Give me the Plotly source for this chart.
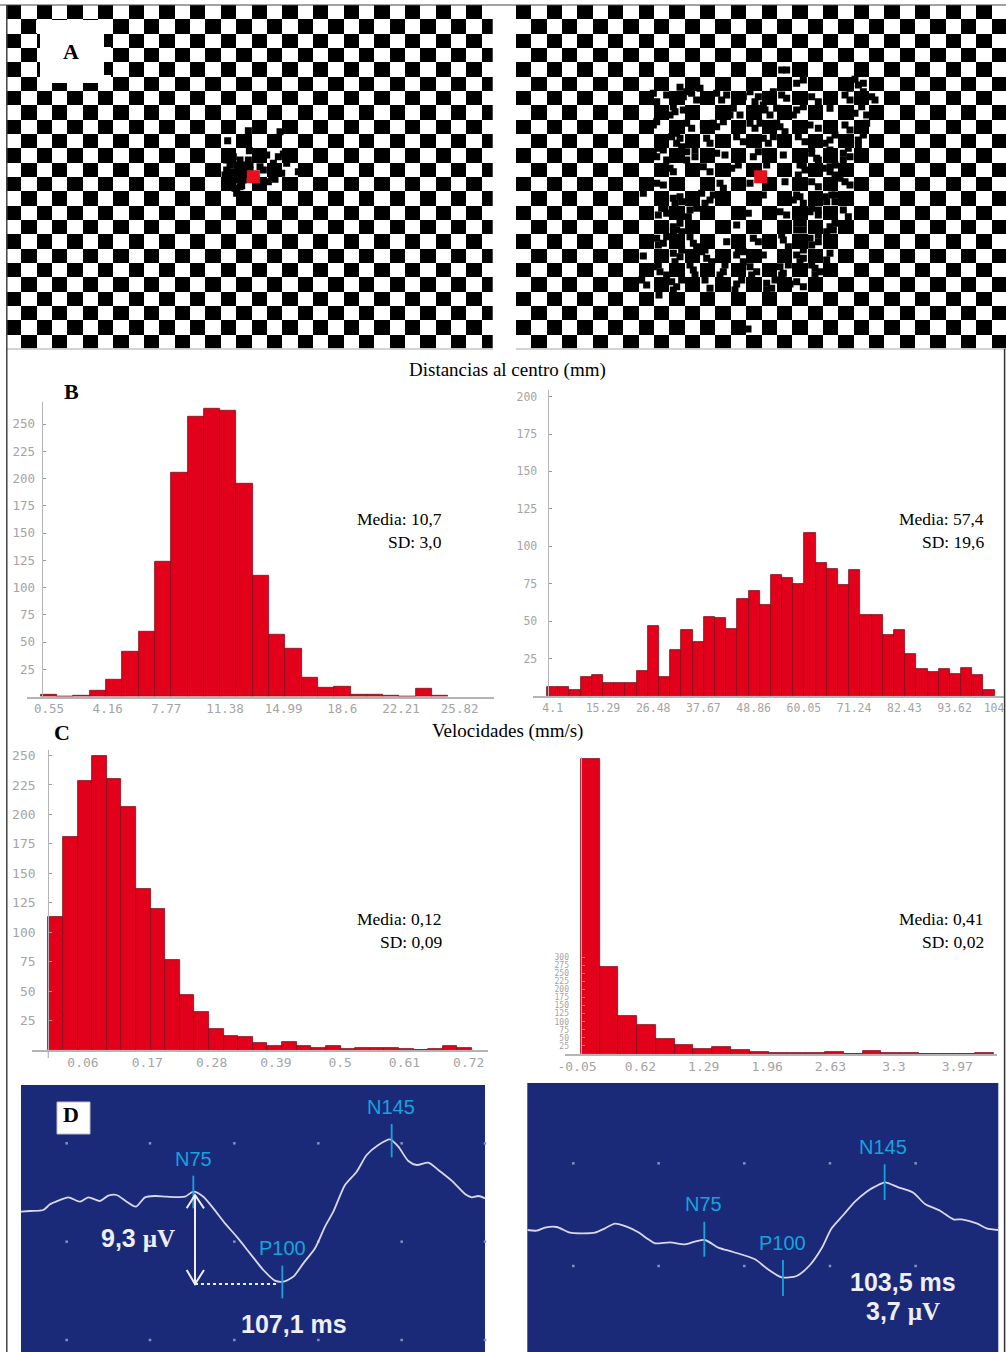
import plotly.graph_objects as go

W, H = 1006, 1352

# ---------- data ----------
dist_left = [2, 0, 1, 5, 15, 41, 59, 124, 205, 257, 264, 262, 195, 111, 57, 44, 17, 8, 9, 2, 2, 1, 0, 7, 1]
dist_right = [6, 6, 4, 13, 14, 9, 9, 9, 17, 47, 13, 31, 44, 36, 53, 52, 45, 65, 70, 61, 81, 79, 75, 109,
              89, 85, 74, 84, 54, 54, 41, 44, 28, 18, 16, 18, 15, 19, 14, 4]
vel_left = [113, 181, 228, 250, 230, 206, 137, 120, 76, 47, 32, 18, 12, 11, 6, 3, 7, 3, 2, 3, 1, 2, 2, 2, 1, 0, 1, 3, 2]
vel_right = [913, 269, 119, 89, 46, 29, 15, 23, 13, 5, 3, 3, 4, 5, 0, 9, 3, 4, 0, 0, 0, 4]

dist_left_ticks = [0.55, 4.16, 7.77, 11.38, 14.99, 18.6, 22.21, 25.82]
dist_right_ticks = [4.1, 15.29, 26.48, 37.67, 48.86, 60.05, 71.24, 82.43, 93.62, 102.4]
dist_right_labels = ["4.1", "15.29", "26.48", "37.67", "48.86", "60.05", "71.24", "82.43", "93.62", "104"]
vel_left_ticks = [0.06, 0.17, 0.28, 0.39, 0.5, 0.61, 0.72]
vel_right_ticks = [-0.05, 0.62, 1.29, 1.96, 2.63, 3.3, 3.97]
y_ticks_250 = [25, 50, 75, 100, 125, 150, 175, 200, 225, 250]
y_ticks_200 = [25, 50, 75, 100, 125, 150, 175, 200]
y_ticks_300 = [25, 50, 75, 100, 125, 150, 175, 200, 225, 250, 275, 300]

# gaze samples, in stimulus units
gaze_left_x = [680, 700, 720, 745, 690, 710, 730, 750, 680, 695, 715, 735, 750, 675, 690, 710, 730, 745, 680, 695,
               715, 730, 690, 705, 720, 710, 683, 745, 748, 840, 800, 820, 835, 850, 860, 830, 845, 815, 825, 895,
               780, 790, 805, 725]
gaze_left_y = [480, 470, 480, 480, 495, 495, 495, 495, 510, 515, 510, 510, 510, 525, 530, 525, 525, 520, 545, 545,
               540, 540, 560, 565, 560, 580, 422, 392, 452, 395, 465, 490, 470, 462, 490, 510, 520, 530, 538, 515,
               500, 510, 545, 557]
gaze_right = [
    (815, 210), (830, 210), (540, 250), (560, 245), (860, 250), (880, 240), (1035, 238), (1060, 250), (1045, 255),
    (510, 262), (570, 265), (530, 275), (1020, 265), (1060, 275),
    (430, 280), (470, 285), (440, 305), (520, 290), (545, 280), (560, 300), (620, 280), (650, 285), (635, 300),
    (700, 290), (720, 275), (745, 290), (735, 305), (815, 285), (830, 295), (790, 275), (905, 290), (925, 305),
    (1005, 285), (1020, 300), (1085, 290), (1095, 300),
    (490, 320), (480, 345), (495, 335), (520, 330), (670, 325), (690, 345), (660, 345), (765, 330), (780, 345),
    (760, 315), (800, 325), (860, 330), (850, 345), (880, 320), (960, 325), (1000, 345), (1035, 340), (1055, 320),
    (1070, 345),
    (430, 375), (440, 365), (545, 385), (530, 370), (580, 375), (620, 380), (640, 365), (610, 370), (720, 370),
    (735, 385), (750, 370), (810, 380), (825, 395), (800, 370), (900, 375), (925, 385), (1005, 375), (1020, 390),
    (1070, 370),
    (485, 410), (500, 430), (510, 415), (590, 415), (600, 430), (680, 410), (700, 425), (760, 415), (775, 430),
    (790, 410), (865, 410), (885, 425), (960, 420), (975, 405), (945, 430), (1045, 420), (1060, 405),
    (430, 455), (440, 470), (460, 450), (530, 455), (555, 470), (620, 460), (645, 465), (730, 470), (745, 455),
    (820, 465), (905, 460), (920, 475), (1000, 460), (1020, 470),
    (480, 505), (490, 515), (580, 500), (600, 515), (665, 505), (685, 495), (770, 495), (870, 495), (885, 510),
    (940, 505), (960, 515), (975, 495),
    (440, 550), (460, 555), (630, 550), (640, 565), (720, 550), (825, 545), (905, 545), (925, 560), (1005, 545),
    (1020, 555), (990, 535),
    (400, 580), (490, 595), (510, 590), (575, 580), (600, 600), (760, 585), (850, 600), (870, 590), (945, 590),
    (965, 585), (975, 605),
    (455, 625), (470, 640), (540, 630), (715, 640), (810, 635), (830, 645), (900, 635), (925, 645),
    (490, 680), (510, 670), (500, 690), (680, 675), (860, 670), (880, 690), (960, 680), (975, 670),
    (440, 715), (460, 730), (550, 730), (650, 725), (730, 715), (745, 725), (820, 720), (900, 715), (925, 725),
    (400, 768), (490, 760), (510, 770), (575, 755), (590, 775), (680, 765), (700, 755), (760, 765), (860, 765),
    (880, 775), (960, 760),
    (430, 800), (450, 815), (550, 810), (640, 815), (720, 800), (740, 815), (810, 800), (820, 820), (915, 805),
    (930, 815),
    (395, 840), (410, 855), (485, 845), (500, 860), (680, 852), (770, 850), (785, 865), (840, 852),
    (447, 885), (714, 987),
    # denser patches on the lower and side parts of the ring
    (495, 610), (515, 605), (585, 610), (610, 585), (860, 585), (880, 610), (950, 605), (975, 585),
    (445, 645), (465, 625), (535, 650), (560, 625), (905, 625), (925, 630), (1000, 630), (1015, 650),
    (490, 695), (515, 695), (860, 690), (880, 670), (950, 695), (970, 690),
    (445, 735), (470, 710), (540, 710), (560, 740), (815, 705), (835, 740), (905, 735), (925, 705),
    (495, 785), (515, 750), (585, 750), (605, 785), (685, 750), (700, 785), (870, 785), (880, 750), (950, 780),
    (445, 795), (470, 825), (540, 795), (555, 825), (645, 795), (630, 825), (725, 825), (815, 825), (835, 795),
    (915, 825), (905, 795), (490, 870), (515, 840), (675, 870), (695, 840), (770, 870), (795, 840),
    (860, 845), (880, 860), (585, 840), (600, 865),
    (960, 500), (975, 525), (880, 495), (865, 525), (960, 450), (1000, 480), (1015, 445),
    (445, 445), (470, 480), (530, 480), (555, 450), (905, 445), (925, 480),
    (500, 400), (515, 440), (1045, 435), (1060, 400),
]

vep_left_t = [62, 90, 130, 150, 175, 205, 240, 265, 300, 325, 350, 380, 408, 435, 465, 500, 555, 580, 610, 640, 675,
              710, 750, 790, 825, 850, 880, 910, 945, 975, 1000, 1035, 1070, 1100, 1135, 1170, 1195, 1225, 1250,
              1285, 1315, 1355, 1395, 1415, 1435, 1455]
vep_left_v = [395, 393, 390, 373, 362, 352, 365, 352, 363, 347, 345, 365, 380, 352, 348, 350, 350, 335, 350, 385, 430,
              470, 520, 570, 602, 605, 590, 550, 505, 440, 395, 315, 275, 225, 195, 178, 200, 243, 255,
              248, 270, 302, 342, 352, 348, 355]
vep_right_t = [52, 80, 105, 140, 180, 215, 255, 285, 315, 350, 385, 415, 435, 480, 525, 555, 585, 625, 670, 735, 770,
               815, 860, 900, 935, 965, 1000, 1035, 1070, 1095, 1125, 1165, 1210, 1245, 1290, 1330, 1355, 1400, 1430,
               1465]
vep_right_v = [450, 452, 443, 441, 458, 460, 458, 445, 431, 440, 457, 478, 490, 487, 493, 485, 480, 503, 516, 538, 565,
               592, 588, 555, 505, 445, 405, 365, 335, 320, 307, 322, 338, 372, 392, 418, 418, 430, 445, 450]
dots_left_t = [200, 450, 703, 955, 1205, 1455]
dots_left_v = [190, 485, 780]
dots_right_t = [190, 446, 703, 960, 1217]
dots_right_v = [250, 558]

# ---------- styling ----------
RED = "#e2001a"
EDGE = "#80101c"
BLUE = "#1a2a78"
CYAN = "#16a3dc"
WHITE = "#eeeef4"
TICK = "#a4a4a4"
MONO = "DejaVu Sans Mono"
SERIF = "Liberation Serif"
SANS = "Liberation Sans"

fig = go.Figure()
layout = {}


def fx(p):
    return p / W


def fy(p):
    return 1 - p / H


def axis_names(i):
    s = "" if i == 1 else str(i)
    return "x" + s, "y" + s, "xaxis" + s, "yaxis" + s


def hidden_axes(i, xr, yr, px_x, px_y):
    xn, yn, xk, yk = axis_names(i)
    layout[xk] = dict(domain=[fx(px_x[0]), fx(px_x[1])], range=xr, visible=False, anchor=yn, fixedrange=True,
                      automargin=False)
    layout[yk] = dict(domain=[fy(px_y[1]), fy(px_y[0])], range=yr, visible=False, anchor=xn, fixedrange=True,
                      automargin=False)
    return xn, yn


def checker(i, xr, px_x, ncols, gx, gy, cx, cy, ms):
    xn, yn = hidden_axes(i, xr, [1045, 15], px_x, (5, 348.3))
    z = [[1 - (r + c) % 2 for c in range(ncols)] for r in range(24)]
    fig.add_trace(go.Heatmap(z=z, x0=18 + 23, dx=46, y0=15 + 21.5, dy=43, xaxis=xn, yaxis=yn, showscale=False,
                             colorscale=[[0, "#ffffff"], [1, "#000000"]], hoverinfo="skip"))
    fig.add_trace(go.Scatter(x=gx, y=gy, mode="markers", xaxis=xn, yaxis=yn, showlegend=False,
                             marker=dict(symbol="square", size=ms, color="#000000", line_width=0)))
    fig.add_trace(go.Scatter(x=[cx], y=[cy], mode="markers", xaxis=xn, yaxis=yn, showlegend=False,
                             marker=dict(symbol="square", size=13, color="#e8101c", line_width=0)))


checker(1, [18, 1478], (6, 492.7), 32, gaze_left_x, gaze_left_y, 760, 530, 7)
checker(2, [18, 1488], (516, 1006), 32, [p[0] for p in gaze_right], [p[1] for p in gaze_right], 752, 530, 7)


def hist(i, vals, x0, dx, scale, px_ref, val_ref, px_x, px_y0, px_top, ypx, xticks, xlabels, yticks, ax_px, fs, yfs,
         standoff):
    xn, yn, xk, yk = axis_names(i)
    fig.add_trace(go.Bar(x0=x0, dx=dx, y=vals, width=dx, xaxis=xn, yaxis=yn, showlegend=False,
                         marker=dict(color=RED, line=dict(color=EDGE, width=0.8))))
    xr = [val_ref + (px_x[0] - px_ref) / scale, val_ref + (px_x[1] - px_ref) / scale]
    layout[xk] = dict(domain=[fx(px_x[0]), fx(px_x[1])], range=xr, anchor=yn, showgrid=False, zeroline=False,
                      showline=True, linecolor="#b4b4b4", linewidth=1.5, ticks="", tickmode="array", tickvals=xticks,
                      ticktext=xlabels, tickangle=0, tickfont=dict(family=MONO, size=fs, color=TICK),
                      ticklabeloverflow="allow", fixedrange=True, automargin=False)
    layout[yk] = dict(domain=[fy(px_y0), fy(px_top)], range=[0, (px_y0 - px_top) / ypx], anchor="free",
                      position=fx(ax_px), showgrid=False, zeroline=False, showline=True, linecolor="#b4b4b4",
                      linewidth=1.2, ticks="inside", ticklen=3, tickcolor="#999999", tickmode="array",
                      tickvals=yticks, ticktext=[str(v) for v in yticks], ticklabelstandoff=standoff,
                      tickfont=dict(family=MONO, size=yfs, color=TICK), fixedrange=True, automargin=False)


hist(3, dist_left, 0.55, 1.003, 16.25, 49, 0.55, (27, 494), 696.5, 401.7, 1.09, dist_left_ticks,
     [str(v) for v in dist_left_ticks], y_ticks_250, 41.7, 12.5, 12.5, 4)
hist(4, dist_right, 4.1, 2.492, 4.49, 552.7, 4.1, (533, 1004), 696, 390, 1.497, dist_right_ticks,
     dist_right_labels, y_ticks_200, 547.7, 11.5, 11.5, 8)
hist(5, vel_left, 0.0131, 0.025, 584.5, 83, 0.06, (32, 488), 1050, 750, 1.178, vel_left_ticks,
     [str(v) for v in vel_left_ticks], y_ticks_250, 48.3, 13, 13, 10)
hist(6, vel_right, 0.0885, 0.1987, 94.6, 577, -0.05, (565, 997), 1054, 757, 0.323, vel_right_ticks,
     [str(v) for v in vel_right_ticks], y_ticks_300, 580.7, 13, 8, 10)


def vep(i, xr, yr, px_x, px_y, t, v, dt, dv, marks):
    xn, yn = hidden_axes(i, xr, yr, px_x, px_y)
    fig.add_trace(go.Scatter(x=[a for a in dt for _ in dv], y=[b for _ in dt for b in dv], mode="markers",
                             xaxis=xn, yaxis=yn, showlegend=False, cliponaxis=False,
                             marker=dict(symbol="square", size=2.5, color="#8a90c0", line_width=0)))
    fig.add_trace(go.Scatter(x=t, y=v, mode="lines", xaxis=xn, yaxis=yn, showlegend=False,
                             line=dict(color="#d8d8ea", width=1.8, shape="spline", smoothing=0.7)))
    for name, mx, y1, y2, lx, ly in marks:
        fig.add_trace(go.Scatter(x=[mx, mx], y=[y1, y2], mode="lines", xaxis=xn, yaxis=yn, showlegend=False,
                                 line=dict(color=CYAN, width=1.8)))
        layout["annotations"].append(dict(text=name, x=lx, y=ly, xref=xn, yref=yn, showarrow=False,
                                          font=dict(family=SANS, size=20, color=CYAN)))
    return xn, yn


layout["annotations"] = []
xd, yd = vep(7, [63, 1455], [816, 15], (21, 485), (1085, 1352), vep_left_t, vep_left_v, dots_left_t, dots_left_v,
             [("N75", 580, 287, 385, 580, 236), ("P100", 847, 557, 655, 847, 505), ("N145", 1175, 132, 232, 1172, 80)])
for xs, ys, dash in [([585, 585], [350, 610], "solid"), ([560, 585, 612], [385, 345, 385], "solid"),
                     ([560, 585, 612], [570, 612, 570], "solid"), ([585, 835], [612, 612], "dot")]:
    fig.add_trace(go.Scatter(x=xs, y=ys, mode="lines", xaxis=xd, yaxis=yd, showlegend=False,
                             line=dict(color=WHITE, width=2, dash=dash)))
MU = '<span style="font-family:Liberation Serif">µV</span>'
for txt, x, y in [("9,3 " + MU, 415, 475), ("107,1 ms", 883, 732)]:
    layout["annotations"].append(dict(text="<b>" + txt + "</b>", x=x, y=y, xref=xd, yref=yd, showarrow=False,
                                      font=dict(family=SANS, size=25, color=WHITE)))
xe, ye = vep(8, [52, 1465], [816, 9], (527.3, 998.3), (1083, 1352), vep_right_t, vep_right_v, dots_right_t, dots_right_v,
             [("N75", 583, 425, 530, 582, 372), ("P100", 819, 540, 648, 818, 488), ("N145", 1124, 253, 360, 1120, 200)])
for txt, x, y in [("103,5 ms", 1178, 605), ("3,7 " + MU, 1178, 692)]:
    layout["annotations"].append(dict(text="<b>" + txt + "</b>", x=x, y=y, xref=xe, yref=ye, showarrow=False,
                                      font=dict(family=SANS, size=25, color=WHITE)))


def note(txt, x, y, size, anchor="center", bold=False):
    layout["annotations"].append(dict(text=("<b>%s</b>" % txt) if bold else txt, x=fx(x), y=fy(y), xref="paper",
                                      yref="paper", xanchor=anchor, yanchor="middle", showarrow=False,
                                      font=dict(family=SERIF, size=size, color="#000000")))


note("Distancias al centro (mm)", 507.5, 369.5, 19)
note("Velocidades (mm/s)", 507.5, 731, 19)
for txt, x, y in [("Media: 10,7", 444, 519), ("SD: 3,0", 444, 542), ("Media: 57,4", 986, 519), ("SD: 19,6", 986, 542),
                  ("Media: 0,12", 444, 919), ("SD: 0,09", 444, 942), ("Media: 0,41", 986, 919), ("SD: 0,02", 986, 942)]:
    note(txt, x, y, 17.5, "right")
for txt, x, y in [("A", 71, 52), ("B", 71, 391), ("C", 62, 732), ("D", 71, 1114)]:
    note(txt, x, y, 22, bold=True)


def rect(x0, y0, x1, y1, fill, layer="above", line=None):
    return dict(type="rect", xref="paper", yref="paper", x0=fx(x0), x1=fx(x1), y0=fy(y1), y1=fy(y0), layer=layer,
                fillcolor=fill, line=line or dict(width=0))


def hline(x0, x1, y, c, w):
    return dict(type="line", xref="paper", yref="paper", x0=fx(x0), x1=fx(x1), y0=fy(y), y1=fy(y), layer="above",
                line=dict(color=c, width=w))


def vline(x, y0, y1, c, w):
    return dict(type="line", xref="paper", yref="paper", x0=fx(x), x1=fx(x), y0=fy(y0), y1=fy(y1), layer="above",
                line=dict(color=c, width=w))


shapes = [
    rect(21, 1085, 485, 1352, BLUE, "below"),
    rect(527.3, 1083, 998.3, 1352, BLUE, "below"),
    rect(40, 20, 104, 83, "#ffffff"),
    rect(36, 20, 111, 33, "#ffffff"),
    rect(104, 47, 111, 62, "#ffffff"),
    rect(104, 75, 111, 88, "#ffffff"),
    rect(57, 1102, 90, 1134, "#ffffff", line=dict(color="#c0c0c0", width=1)),
    hline(6, 493, 349, "#c4c4c4", 1.5),
    hline(516, 1006, 349, "#c4c4c4", 1.5),
    hline(0, 1006, 5, "#444444", 1),
    vline(6.8, 5, 1352, "#444444", 1.5),
    vline(1004.6, 349, 1352, "#333333", 1.5),
    vline(48.3, 1050, 1058, "#b4b4b4", 1.2),
]

fig.update_layout(template="none", width=W, height=H, margin=dict(l=0, r=0, t=0, b=0, pad=0), paper_bgcolor="#ffffff",
                  plot_bgcolor="rgba(0,0,0,0)", showlegend=False, bargap=0, shapes=shapes, **layout)
fig.write_html("out.html", config={"displayModeBar": False},
               post_script="document.body.style.margin='0';document.body.style.overflow='hidden';")
